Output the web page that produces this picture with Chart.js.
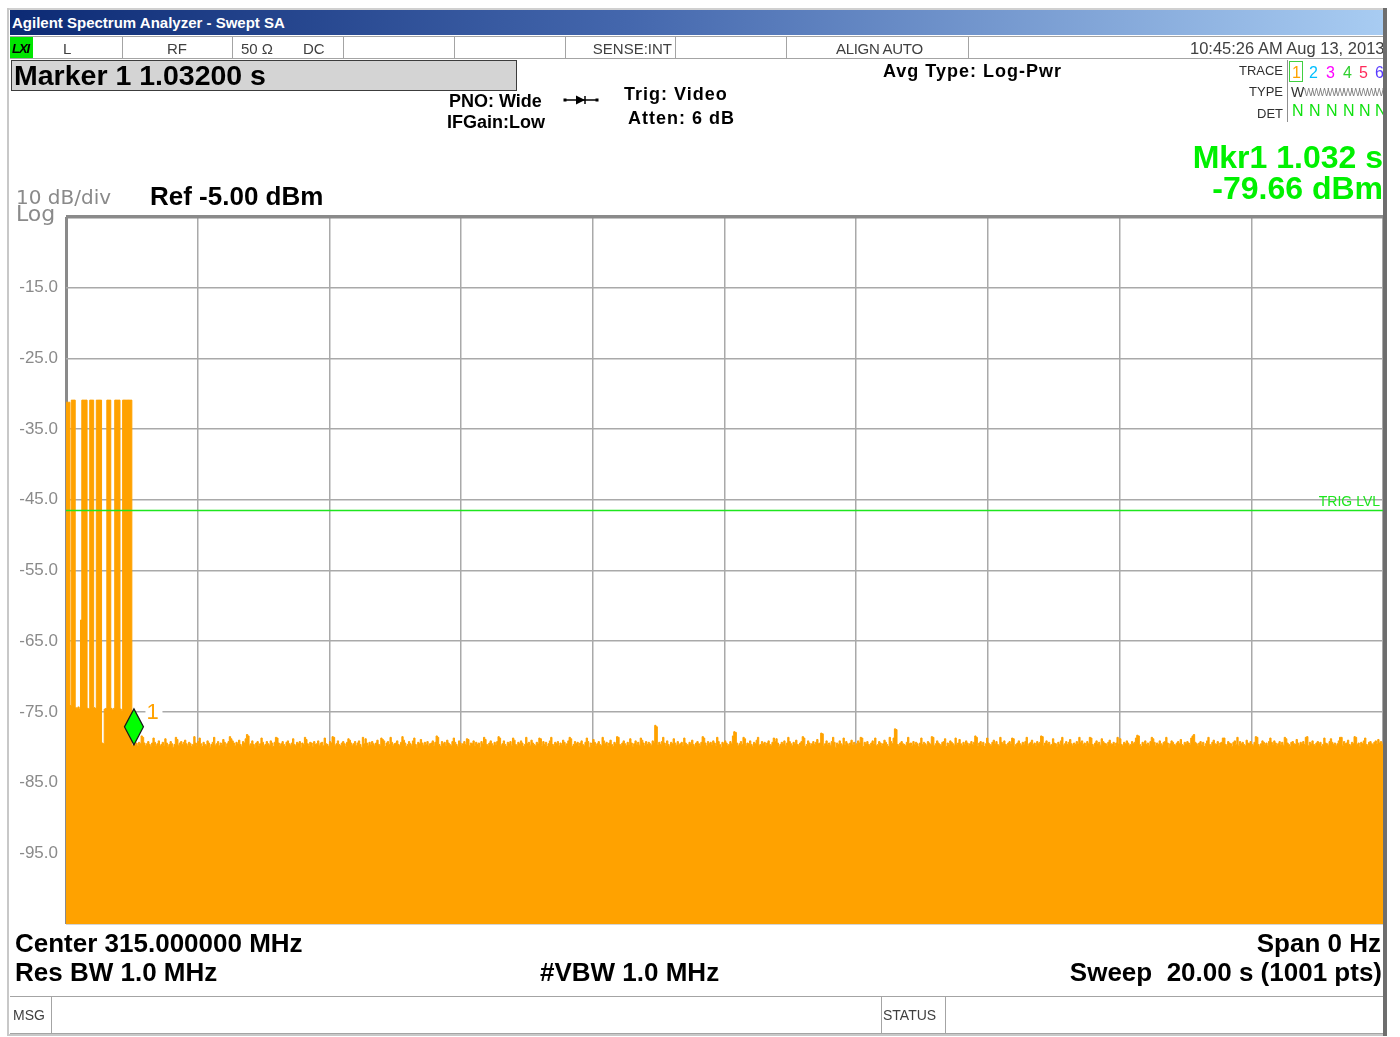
<!DOCTYPE html>
<html>
<head>
<meta charset="utf-8">
<title>Agilent Spectrum Analyzer - Swept SA</title>
<script src="https://cdn.jsdelivr.net/npm/chart.js@4.4.1/dist/chart.umd.min.js"></script>
<style>
  html, body { margin:0; padding:0; background:#fff; }
  #screen { position:relative; width:1400px; height:1037px; overflow:hidden;
            font-family:"Liberation Sans", Arial, sans-serif; color:#000; }
  #plot { position:absolute; left:0; top:0; }
  .t { position:absolute; white-space:pre; line-height:1; transform:translateY(-50%); }
  .box { position:absolute; box-sizing:border-box; }
  .row { position:absolute; overflow:hidden; box-sizing:border-box; }
  .sep { position:absolute; top:0; bottom:0; width:1px; background:#a4a4a4; }
  .hdr { font-size:18px; font-weight:bold; }
  .wide { letter-spacing:1px; }
  .bot { font-size:26px; font-weight:bold; }
  .st  { font-size:15px; color:#404040; }
  .num { font-size:16px; }
  .det { font-size:16px; color:#10e010; }
</style>
</head>
<body>
<div id="screen">
  <canvas id="plot" width="1400" height="1037"></canvas>

  <!-- window frame -->
  <div class="box" style="left:7px;top:8px;width:1380px;height:2px;background:#d0d0d0"></div>
  <div class="box" style="left:7px;top:8px;width:2px;height:1028px;background:#c8c8c8"></div>
  <div class="box" style="left:7px;top:1034px;width:1380px;height:2px;background:#c8c8c8"></div>
  <div class="box" style="left:1383px;top:8px;width:4px;height:1028px;background:#6e6e6e"></div>

  <!-- title bar -->
  <div class="box" style="left:10px;top:10px;width:1373px;height:25px;background:linear-gradient(to right,#0c2a74,#4467ad 45%,#a8ccf2)"></div>
  <div class="t" style="left:12px;top:22px;font-size:15px;font-weight:bold;color:#fff">Agilent Spectrum Analyzer - Swept SA</div>

  <!-- status row -->
  <div class="row" style="left:10px;top:36px;width:1373px;height:23px;border-top:1px solid #a4a4a4;border-bottom:1px solid #a4a4a4">
    <div class="box" style="left:0;top:0;width:23px;height:21px;background:#00e600"></div>
    <div class="t" style="left:2px;top:11px;font-size:13px;font-weight:bold;font-style:italic;letter-spacing:-1px">LXI</div>
    <div class="sep" style="left:112px"></div>
    <div class="sep" style="left:222px"></div>
    <div class="sep" style="left:333px"></div>
    <div class="sep" style="left:444px"></div>
    <div class="sep" style="left:555px"></div>
    <div class="sep" style="left:665px"></div>
    <div class="sep" style="left:776px"></div>
    <div class="sep" style="left:958px"></div>
    <div class="t st" style="left:53px;top:11px">L</div>
    <div class="t st" style="left:157px;top:11px">RF</div>
    <div class="t st" style="left:231px;top:11px">50 Ω</div>
    <div class="t st" style="left:293px;top:11px">DC</div>
    <div class="t st" style="right:711px;top:11px">SENSE:INT</div>
    <div class="t st" style="left:826px;top:11px;letter-spacing:-0.3px">ALIGN AUTO</div>
    <div class="t st" style="left:1180px;top:11px;font-size:16.5px">10:45:26 AM Aug 13, 2013</div>
  </div>

  <!-- marker readout box -->
  <div class="box" style="left:11px;top:60px;width:506px;height:31px;background:#d4d4d4;border:1px solid #3c3c3c"></div>
  <div class="t" style="left:14px;top:75px;font-size:28.5px;font-weight:bold">Marker 1 1.03200 s</div>

  <!-- setup annotations -->
  <div class="t hdr" style="left:449px;top:101px">PNO: Wide</div>
  <div class="t hdr" style="left:447px;top:122px">IFGain:Low</div>
  <svg class="box" style="left:563px;top:94px" width="36" height="12" viewBox="0 0 36 12">
    <line x1="2" y1="6" x2="34" y2="6" stroke="#000" stroke-width="1.5"/>
    <polygon points="13,1.5 22,6 13,10.5" fill="#000"/>
    <line x1="22" y1="2" x2="22" y2="10" stroke="#000" stroke-width="1.5"/>
    <rect x="0.5" y="4.5" width="3" height="3" fill="#000"/>
    <rect x="32.5" y="4.5" width="3" height="3" fill="#000"/>
  </svg>
  <div class="t hdr wide" style="left:624px;top:94px">Trig: Video</div>
  <div class="t hdr wide" style="left:628px;top:118px">Atten: 6 dB</div>
  <div class="t hdr wide" style="left:883px;top:71px">Avg Type: Log-Pwr</div>

  <!-- trace table -->
  <div class="t" style="right:117px;top:70px;font-size:13px;color:#303030">TRACE</div>
  <div class="t" style="right:117px;top:91px;font-size:13px;color:#303030">TYPE</div>
  <div class="t" style="right:117px;top:113px;font-size:13px;color:#303030">DET</div>
  <div class="row" style="left:1287px;top:60px;width:96px;height:62px;border-left:1px solid #909090">
    <div class="box" style="left:1px;top:1px;width:14px;height:21px;border:1px solid #40d040"></div>
    <div class="t num" style="left:4px;top:13px;color:#ffa200">1</div>
    <div class="t num" style="left:21px;top:13px;color:#00bfff">2</div>
    <div class="t num" style="left:38px;top:13px;color:#ff00ff">3</div>
    <div class="t num" style="left:55px;top:13px;color:#30d030">4</div>
    <div class="t num" style="left:71px;top:13px;color:#ff2a5a">5</div>
    <div class="t num" style="left:87px;top:13px;color:#5a3cff">6</div>
    <div class="t" style="left:3px;top:32px;font-size:14px;color:#303030">W</div>
    <div class="t" style="left:16px;top:33px;font-size:10px;color:#808080;letter-spacing:-1.6px">WWWWWWWWWWWWWWW</div>
    <div class="t det" style="left:4px;top:51px">N</div>
    <div class="t det" style="left:21px;top:51px">N</div>
    <div class="t det" style="left:38px;top:51px">N</div>
    <div class="t det" style="left:55px;top:51px">N</div>
    <div class="t det" style="left:71px;top:51px">N</div>
    <div class="t det" style="left:87px;top:51px">N</div>
  </div>

  <!-- active marker readout -->
  <div class="t" style="right:17px;top:157px;font-size:32px;font-weight:bold;color:#00f000">Mkr1 1.032 s</div>
  <div class="t" style="right:17px;top:188px;font-size:32px;font-weight:bold;color:#00f000">-79.66 dBm</div>

  <!-- amplitude scale annotation -->
  <div class="t" style="left:16px;top:197px;font-family:'DejaVu Sans';font-size:20px;color:#8a8a8a">10 dB/div</div>
  <div class="t" style="left:16px;top:214px;font-family:'DejaVu Sans';font-size:22px;color:#8a8a8a">Log</div>
  <div class="t" style="left:150px;top:196px;font-size:26px;font-weight:bold">Ref -5.00 dBm</div>

  <!-- bottom annotations -->
  <div class="t bot" style="left:15px;top:943px">Center 315.000000 MHz</div>
  <div class="t bot" style="left:15px;top:972px">Res BW 1.0 MHz</div>
  <div class="t bot" style="left:540px;top:972px">#VBW 1.0 MHz</div>
  <div class="t bot" style="right:19px;top:943px">Span 0 Hz</div>
  <div class="t bot" style="right:18px;top:972px">Sweep  20.00 s (1001 pts)</div>

  <!-- message / status bar -->
  <div class="row" style="left:10px;top:996px;width:1373px;height:38px;border-top:1px solid #a4a4a4;border-bottom:1px solid #a4a4a4">
    <div class="sep" style="left:41px"></div>
    <div class="sep" style="left:871px"></div>
    <div class="sep" style="left:935px"></div>
    <div class="t" style="left:3px;top:18px;font-size:14px;color:#404040">MSG</div>
    <div class="t" style="left:873px;top:18px;font-size:14px;color:#404040">STATUS</div>
  </div>
</div>

<script>
// Zero-span sweep settings
const sweepSeconds = 20;
const xDivisions = 10;
const refLevelDbm = -5;
const dbPerDiv = 10;
const yDivisions = 10;
const trigLevelDbm = -46.5;
const markerTimeS = 1.032;
const markerDbm = -79.66;

// Trace 1, 1001 sweep points (dBm)
const traceDbm = [
  -31.2,-31.2,-31.2,-74.1,-30.9,-30.9,-30.9,-74.4,-74.5,-74.3,-74.6,-62.0,-30.9,-30.9,-30.9,-30.9,-74.5,-74.6,-30.9,-30.9,
  -30.9,-74.4,-74.5,-30.9,-30.9,-30.9,-30.9,-79.4,-79.5,-74.6,-74.5,-30.9,-30.9,-30.9,-74.5,-74.7,-74.5,-30.9,-30.9,-30.9,
  -30.9,-74.6,-74.8,-30.9,-30.9,-30.9,-30.9,-30.9,-30.9,-30.9,-79.7,-79.66,
  -79.6,-79.4,-79.7,-79.3,-79.5,-78.4,-78.6,-79.4,-79.8,-79.5,-79.2,-79.6,-79.9,-79.4,-78.7,-79.3,-79.7,-79.5,-79.1,-79.8,
  -79.6,-79.3,-79.7,-78.8,-79.4,-79.9,-79.6,-79.2,-79.5,-80.0,-79.6,-78.6,-78.9,-79.7,-79.4,-79.2,-79.6,-79.3,-79.0,-79.5,
  -79.8,-79.3,-79.5,-79.9,-79.6,-78.5,-79.4,-79.7,-79.2,-78.7,-79.5,-79.9,-79.3,-79.6,-79.7,-79.1,-79.4,-80.0,-79.6,-79.3,
  -78.6,-79.7,-79.5,-79.2,-79.8,-79.4,-79.6,-78.9,-79.3,-79.9,-79.5,-79.2,-78.5,-78.8,-79.1,-79.4,-79.8,-79.3,-79.5,-79.0,
  -79.6,-79.9,-79.2,-79.4,-78.8,-78.2,-78.4,-79.7,-79.5,-79.1,-79.6,-80.0,-79.4,-79.2,-79.7,-79.5,-78.7,-79.3,-79.8,-79.6,
  -79.2,-79.5,-79.7,-79.1,-79.4,-79.9,-79.3,-78.6,-78.7,-79.4,-79.8,-79.5,-79.2,-79.6,-79.9,-79.3,-79.1,-79.5,-79.7,-79.4,
  -78.8,-79.6,-79.8,-79.3,-79.5,-79.2,-80.0,-79.4,-79.6,-78.6,-78.9,-79.5,-79.7,-79.3,-79.4,-79.9,-79.2,-79.6,-79.5,-79.1,
  -79.7,-79.4,-79.3,-79.8,-78.7,-79.5,-79.6,-79.9,-79.2,-79.4,-78.5,-78.6,-79.7,-79.5,-79.1,-79.6,-79.8,-79.4,-79.2,-79.5,
  -79.9,-79.3,-78.8,-79.0,-79.4,-79.7,-79.5,-79.2,-79.8,-79.4,-79.1,-79.6,-80.0,-78.6,-79.5,-78.8,-79.4,-79.7,-79.3,-79.6,
  -79.2,-79.5,-79.8,-79.4,-79.0,-79.6,-79.7,-78.7,-78.9,-79.1,-79.9,-79.4,-79.2,-79.6,-78.6,-79.3,-79.7,-79.5,-79.4,-79.1,
  -79.6,-79.8,-79.3,-78.5,-79.0,-79.4,-79.9,-79.6,-79.2,-79.5,-79.7,-79.1,-78.7,-79.6,-80.0,-79.3,-79.5,-78.9,-79.4,-79.7,
  -79.3,-79.6,-79.2,-79.8,-79.5,-79.4,-79.1,-79.7,-79.3,-78.4,-78.6,-79.6,-79.9,-79.2,-79.5,-79.3,-79.7,-79.0,-79.4,-79.6,
  -79.8,-79.2,-78.7,-79.3,-79.6,-79.9,-79.1,-79.4,-79.7,-79.5,-79.2,-79.6,-78.8,-78.9,-79.8,-79.4,-79.5,-79.1,-79.7,-79.3,
  -79.6,-79.4,-80.0,-79.2,-79.5,-78.6,-78.9,-79.6,-79.7,-79.4,-79.1,-79.5,-79.8,-79.3,-79.6,-79.2,-78.5,-78.7,-79.7,-79.5,
  -79.1,-79.6,-79.9,-79.3,-79.5,-79.2,-79.7,-78.7,-79.0,-79.6,-79.8,-79.3,-79.5,-79.1,-79.4,-79.9,-79.6,-78.6,-79.5,-79.3,
  -79.7,-79.0,-79.4,-79.6,-79.8,-79.3,-79.5,-78.7,-78.8,-79.7,-79.2,-79.6,-79.3,-79.9,-79.5,-79.1,-78.6,-79.6,-79.7,-79.3,
  -79.5,-79.2,-79.8,-79.4,-79.6,-79.0,-79.3,-79.7,-79.5,-79.1,-78.6,-78.8,-79.9,-79.6,-79.2,-79.5,-79.3,-79.7,-79.4,-79.1,
  -79.6,-79.8,-79.3,-78.7,-79.2,-80.0,-79.4,-79.6,-78.9,-79.3,-79.7,-79.5,-79.2,-79.6,-79.8,-78.6,-79.1,-79.5,-79.3,-79.7,
  -79.4,-79.0,-79.6,-79.9,-79.3,-79.5,-78.5,-78.6,-79.6,-79.7,-79.4,-79.1,-79.5,-79.8,-79.3,-79.6,-78.8,-79.4,-79.9,-79.5,
  -79.1,-79.6,-79.3,-79.7,-78.7,-79.0,-79.4,-79.8,-79.2,-79.6,-79.3,-79.5,-79.7,-79.1,-79.4,-76.9,-77.1,-79.6,-79.3,-79.6,
  -79.2,-78.6,-79.4,-79.7,-79.1,-79.6,-79.9,-79.3,-79.5,-78.8,-79.4,-79.7,-79.2,-79.6,-79.5,-79.3,-79.8,-78.7,-79.4,-79.6,
  -79.7,-79.3,-79.5,-79.0,-79.6,-79.9,-79.4,-79.2,-79.5,-79.7,-79.3,-78.5,-78.7,-79.4,-79.8,-79.2,-79.5,-79.3,-79.6,-79.1,
  -79.4,-79.7,-78.6,-79.2,-79.6,-80.0,-79.3,-79.5,-79.1,-79.4,-79.7,-79.6,-79.2,-79.5,-78.4,-77.8,-77.9,-79.4,-79.8,-79.5,
  -79.2,-79.6,-78.6,-78.8,-79.7,-79.4,-79.5,-79.1,-79.6,-79.9,-79.3,-79.5,-79.0,-78.6,-79.7,-79.6,-79.2,-79.5,-79.3,-79.8,
  -79.4,-79.1,-79.6,-79.7,-79.3,-78.7,-79.2,-78.8,-79.4,-79.9,-79.6,-79.3,-79.5,-79.1,-79.7,-79.4,-78.6,-79.2,-79.5,-79.8,
  -79.3,-79.5,-79.0,-79.6,-79.7,-79.4,-79.2,-78.5,-78.7,-79.9,-79.6,-79.1,-79.4,-79.7,-79.5,-79.2,-79.6,-79.3,-78.9,-79.5,
  -79.4,-78.0,-78.1,-79.8,-79.5,-79.1,-79.6,-79.4,-79.7,-79.2,-78.6,-79.3,-80.0,-79.4,-79.6,-79.1,-79.5,-79.7,-78.7,-79.6,
  -79.2,-79.5,-79.8,-79.4,-79.0,-79.6,-79.3,-79.7,-79.5,-79.1,-79.4,-78.6,-78.7,-79.9,-79.3,-79.5,-79.2,-79.6,-79.7,-79.4,
  -79.1,-79.5,-78.7,-79.8,-79.6,-79.2,-79.4,-79.7,-79.5,-79.0,-79.3,-79.6,-79.9,-78.6,-79.2,-79.5,-78.7,-77.4,-77.5,-79.6,
  -79.7,-79.4,-79.2,-79.5,-79.6,-79.8,-79.3,-78.6,-79.5,-79.4,-79.7,-79.2,-79.6,-79.3,-79.5,-79.9,-79.4,-78.7,-79.6,-79.3,
  -79.5,-79.7,-79.2,-79.4,-79.6,-78.5,-78.6,-79.8,-79.5,-79.1,-79.4,-79.6,-79.7,-79.3,-79.2,-78.8,-79.9,-79.4,-79.6,-79.1,
  -79.3,-79.5,-79.7,-78.7,-79.6,-79.4,-78.9,-79.5,-79.8,-79.3,-79.6,-79.1,-79.4,-79.7,-79.5,-79.2,-79.6,-79.3,-78.4,-78.6,
  -79.7,-79.4,-79.2,-79.6,-79.3,-79.9,-79.5,-78.7,-79.4,-79.6,-79.7,-79.3,-79.0,-79.5,-79.2,-79.6,-79.8,-78.6,-79.3,-79.5,
  -79.1,-79.6,-79.7,-79.4,-79.2,-79.5,-78.7,-78.8,-79.9,-79.6,-79.4,-79.1,-79.5,-79.7,-79.3,-79.6,-79.2,-78.6,-79.8,-79.5,
  -79.3,-79.0,-79.6,-79.4,-79.7,-79.2,-79.5,-79.3,-78.4,-78.5,-79.8,-79.4,-79.1,-79.5,-79.3,-79.7,-79.6,-78.8,-79.4,-79.5,
  -79.9,-79.3,-79.6,-79.1,-78.6,-79.7,-79.5,-79.2,-79.6,-79.3,-78.9,-79.5,-79.8,-79.4,-79.6,-79.2,-79.5,-78.6,-79.3,-79.1,
  -79.6,-79.4,-79.7,-79.2,-79.5,-78.6,-78.7,-79.6,-79.9,-79.4,-79.1,-79.5,-79.3,-79.7,-78.8,-79.2,-79.4,-79.5,-79.8,-79.3,
  -79.0,-79.5,-79.6,-79.3,-79.7,-79.4,-78.6,-79.5,-78.8,-79.6,-79.8,-79.3,-79.5,-79.1,-79.4,-79.7,-79.6,-79.2,-79.5,-79.3,
  -78.7,-78.3,-78.4,-79.6,-79.9,-79.3,-79.5,-79.1,-79.6,-79.4,-79.7,-79.2,-78.6,-78.8,-79.3,-79.8,-79.4,-79.6,-79.1,-79.5,
  -79.7,-79.3,-79.2,-78.6,-79.4,-80.0,-79.5,-79.1,-79.3,-79.6,-79.7,-79.4,-79.2,-79.5,-78.9,-79.6,-79.8,-79.3,-79.5,-79.2,
  -79.4,-79.6,-78.7,-78.4,-78.2,-79.3,-79.5,-79.8,-79.4,-79.2,-79.6,-79.3,-79.9,-79.5,-79.1,-78.6,-79.6,-79.7,-79.3,-79.0,
  -79.5,-79.6,-79.2,-79.8,-79.4,-79.3,-78.7,-78.7,-79.6,-79.7,-79.2,-79.4,-79.5,-79.9,-79.3,-79.1,-79.6,-78.6,-79.7,-79.2,
  -79.5,-79.3,-79.6,-79.8,-79.0,-79.4,-79.5,-79.2,-79.6,-79.7,-79.3,-78.5,-78.6,-79.6,-79.9,-79.5,-79.1,-79.3,-79.6,-79.4,
  -79.7,-79.2,-78.7,-79.3,-79.6,-79.1,-79.4,-79.8,-79.5,-79.2,-79.6,-79.3,-79.7,-78.6,-78.8,-79.4,-79.6,-79.9,-79.3,-79.2,
  -79.5,-79.6,-78.9,-79.4,-79.7,-79.3,-79.5,-79.2,-79.6,-78.6,-78.5,-79.8,-79.3,-79.5,-79.1,-79.6,-79.7,-79.4,-79.2,-79.5,
  -79.3,-79.9,-79.6,-78.7,-79.4,-79.5,-79.7,-79.2,-78.8,-79.3,-79.6,-79.4,-79.8,-79.5,-79.1,-78.6,-78.6,-79.7,-79.2,-79.5,
  -79.4,-79.0,-79.6,-79.7,-79.3,-79.5,-78.5,-78.6,-79.6,-79.4,-79.9,-79.3,-79.5,-79.1,-78.7,-79.6,-79.7,-79.3,-79.2,-79.5,
  -79.6,-79.3,-79.1,-79.5,-78.9,-79.4,-79.2,-79.6,-79.3
];

const traceColor = '#ffa200';
const plotBottomDbm = refLevelDbm - dbPerDiv * yDivisions;
const tracePoints = traceDbm.map((v, i) => ({ x: i * sweepSeconds / (traceDbm.length - 1), y: v }));

// Marker diamond, marker number and trigger-level caption
const markerPlugin = {
  id: 'markerOverlay',
  afterDatasetsDraw(chart) {
    const { ctx, chartArea, scales: { x, y } } = chart;
    ctx.save();

    // trigger level caption sits just above its line
    const ty = y.getPixelForValue(trigLevelDbm);
    ctx.font = '14px "Liberation Sans", Arial, sans-serif';
    ctx.fillStyle = '#1ee61e';
    ctx.textAlign = 'right';
    ctx.textBaseline = 'alphabetic';
    ctx.fillText('TRIG LVL', chartArea.right - 3, ty - 4);

    // diamond with its lower tip on the marked point
    const px = x.getPixelForValue(markerTimeS);
    const py = y.getPixelForValue(markerDbm);
    const hw = 9.5, hh = 18;
    ctx.beginPath();
    ctx.moveTo(px, py);
    ctx.lineTo(px + hw, py - hh);
    ctx.lineTo(px, py - 2 * hh);
    ctx.lineTo(px - hw, py - hh);
    ctx.closePath();
    ctx.fillStyle = '#00ff00';
    ctx.fill();
    ctx.lineWidth = 1.2;
    ctx.strokeStyle = '#1a1a1a';
    ctx.stroke();

    // marker number
    ctx.fillStyle = '#ffffff';
    ctx.fillRect(px + hw + 2, py - 2 * hh - 8, 17, 24);
    ctx.font = '22px "Liberation Sans", Arial, sans-serif';
    ctx.fillStyle = traceColor;
    ctx.textAlign = 'left';
    ctx.fillText('1', px + hw + 3, py - 2 * hh + 10);
    ctx.restore();
  }
};

new Chart(document.getElementById('plot'), {
  type: 'line',
  data: {
    datasets: [
      {
        label: 'TRIG LVL',
        data: [{ x: 0, y: trigLevelDbm }, { x: sweepSeconds, y: trigLevelDbm }],
        borderColor: '#1ee61e',
        borderWidth: 1.5,
        pointRadius: 0,
        fill: false,
        order: 0
      },
      {
        label: 'Trace 1',
        data: tracePoints,
        borderColor: traceColor,
        backgroundColor: traceColor,
        borderWidth: 1,
        pointRadius: 0,
        stepped: true,
        fill: 'start',
        order: 1
      }
    ]
  },
  options: {
    responsive: false,
    animation: false,
    devicePixelRatio: 1,
    events: [],
    layout: { padding: { top: 217, right: 17, bottom: 0, left: 0 } },
    plugins: { legend: { display: false }, tooltip: { enabled: false } },
    scales: {
      x: {
        type: 'linear',
        min: 0,
        max: sweepSeconds,
        ticks: { display: false, stepSize: sweepSeconds / xDivisions },
        grid: {
          drawTicks: false,
          color: c => c.tick && c.tick.value === 0 ? '#8a8a8a' : '#a9a9a9',
          lineWidth: c => c.tick && c.tick.value === 0 ? 3 : 1.5
        },
        border: { display: false },
        afterFit: s => { s.height = 113; }
      },
      y: {
        type: 'linear',
        min: plotBottomDbm,
        max: refLevelDbm,
        ticks: {
          stepSize: dbPerDiv,
          padding: 8,
          color: '#8a8a8a',
          font: { family: '"Liberation Sans", Arial, sans-serif', size: 17 },
          callback: v => (v === refLevelDbm || v === plotBottomDbm) ? '' : v.toFixed(1)
        },
        grid: {
          drawTicks: false,
          color: c => c.tick && c.tick.value === refLevelDbm ? '#8a8a8a' : '#a9a9a9',
          lineWidth: c => c.tick && c.tick.value === refLevelDbm ? 3.5 : 1.5
        },
        border: { display: false },
        afterFit: s => { s.width = 66; }
      }
    }
  },
  plugins: [markerPlugin]
});
</script>
</body>
</html>
